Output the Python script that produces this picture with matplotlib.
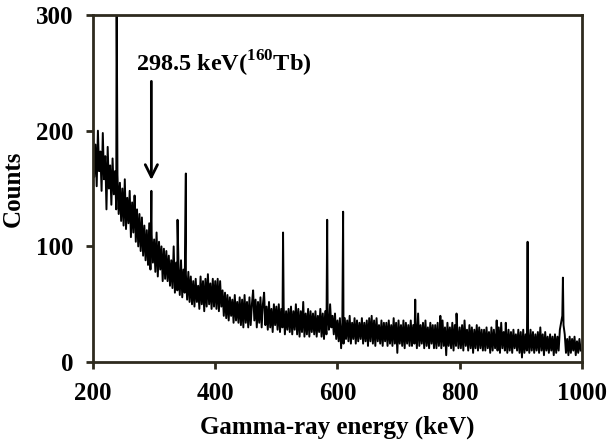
import matplotlib
matplotlib.use("Agg")
import matplotlib.pyplot as plt
import numpy as np

plt.rcParams['font.family'] = ['Liberation Serif', 'DejaVu Serif']
plt.rcParams['font.weight'] = 'bold'
plt.rcParams['mathtext.fontset'] = 'custom'
plt.rcParams['mathtext.rm'] = 'Liberation Serif:bold'
plt.rcParams['mathtext.bf'] = 'Liberation Serif:bold'

# continuum, read every 2 keV from 200 to 998 keV
channel_start = 200
channel_step = 2
continuum = [
    195, 160, 188, 152, 200, 165, 182, 148, 198, 158, 178, 132, 186, 150, 170, 136, 176, 145, 165, 132,
    162, 128, 155, 122, 150, 118, 158, 115, 142, 120, 148, 108, 138, 112, 144, 104, 132, 100, 128, 96,
    125, 92, 118, 88, 114, 84, 120, 80, 110, 86, 106, 78, 112, 74, 104, 80, 100, 70, 98, 72,
    96, 70, 92, 66, 88, 64, 100, 60, 86, 62, 82, 58, 88, 56, 80, 60, 76, 54, 78, 52,
    74, 50, 70, 48, 72, 52, 66, 46, 74, 50, 70, 44, 72, 48, 76, 50, 68, 46, 72, 48,
    70, 46, 72, 44, 70, 48, 62, 40, 60, 38, 58, 36, 56, 40, 54, 34, 58, 36, 52, 34,
    56, 32, 54, 30, 58, 34, 52, 30, 56, 32, 50, 62, 36, 54, 30, 52, 34, 56, 30, 50,
    60, 32, 48, 28, 52, 30, 46, 26, 50, 32, 48, 28, 50, 26, 46, 30, 48, 24, 44, 28,
    46, 26, 48, 24, 44, 28, 50, 24, 46, 22, 44, 26, 52, 22, 42, 24, 46, 22, 44, 26,
    42, 24, 44, 22, 40, 26, 46, 22, 42, 20, 44, 24, 40, 28, 50, 30, 40, 24, 42, 20,
    36, 18, 38, 12, 34, 16, 38, 20, 36, 18, 40, 16, 34, 20, 38, 16, 36, 18, 34, 20,
    38, 16, 34, 18, 36, 14, 38, 18, 40, 16, 36, 14, 38, 18, 32, 16, 36, 14, 34, 18,
    34, 14, 36, 16, 32, 14, 38, 16, 34, 8, 36, 16, 32, 14, 36, 12, 34, 16, 32, 14,
    36, 14, 32, 16, 34, 12, 42, 14, 32, 16, 34, 12, 36, 14, 30, 12, 34, 16, 32, 12,
    32, 12, 34, 14, 30, 12, 36, 14, 30, 6, 34, 14, 30, 12, 34, 10, 32, 14, 30, 12,
    30, 12, 32, 10, 36, 14, 28, 10, 32, 12, 30, 8, 28, 12, 32, 10, 30, 12, 28, 10,
    28, 10, 30, 12, 26, 8, 30, 10, 28, 12, 26, 10, 30, 8, 34, 12, 26, 10, 28, 8,
    28, 10, 26, 8, 28, 12, 24, 10, 28, 8, 26, 4, 28, 8, 24, 10, 26, 8, 28, 10,
    26, 8, 24, 10, 26, 8, 30, 10, 24, 6, 26, 10, 22, 8, 24, 10, 22, 6, 24, 8,
    22, 10, 28, 34, 40, 32, 24, 8, 20, 6, 22, 8, 20, 10, 22, 6, 18, 8, 20, 10,
]

# photopeaks (keV, counts)
peak_energy = [238.6, 268.7, 295.5, 338.3, 351.9, 511.0, 583.2, 609.3,
               727.3, 768.4, 794.9, 860.6, 875.5, 911.2, 969.0]
peak_counts = [330, 134, 148, 123, 163, 112, 123, 130,
               54, 40, 42, 36, 34, 104, 73]

arrow_energy = 295.5
label = r'298.5 keV($^{160}$Tb)'

energy = channel_start + channel_step * np.arange(len(continuum))
e_all = np.concatenate([energy, peak_energy])
c_all = np.concatenate([continuum, peak_counts])
order = np.argsort(e_all)

fig = plt.figure(figsize=(6.08, 4.4), dpi=100)
ax = fig.add_axes([0.153, 0.177, 0.804, 0.789])

ax.plot(e_all[order], c_all[order], color='black', lw=1.4)

ax.set_xlim(200, 1000)
ax.set_ylim(0, 300)
ax.set_xticks([200, 400, 600, 800, 1000])
ax.set_yticks([0, 100, 200, 300])

spine_color = '#2e2a1e'
for s in ax.spines.values():
    s.set_linewidth(2)
    s.set_color(spine_color)
ax.tick_params(direction='out', length=5, width=2, color=spine_color, labelsize=18, pad=9)

ax.set_xlabel('Gamma-ray energy (keV)', fontsize=18, fontweight='bold', labelpad=8)
ax.set_ylabel('Counts', fontsize=18, fontweight='bold', labelpad=8)

ax.annotate('', xy=(arrow_energy, 155), xytext=(arrow_energy, 245),
            arrowprops=dict(arrowstyle='->', lw=2, color='black', mutation_scale=22))
ax.text(270, 258, label, fontsize=17.5, fontweight='bold', ha='left', va='center')

plt.savefig('out.png', dpi=100)
